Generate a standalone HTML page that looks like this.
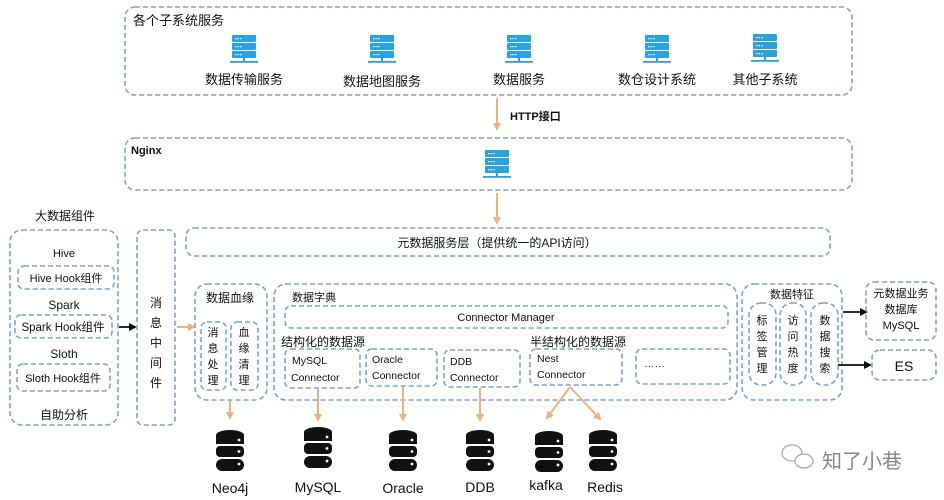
<!DOCTYPE html>
<html><head><meta charset="utf-8"><style>
html,body{margin:0;padding:0;background:#fff;}
svg{display:block;}
text{font-family:"Liberation Sans","Noto Sans CJK SC",sans-serif;fill:#111;}
.b{fill:none;stroke:#7ba3d4;stroke-width:1.6;stroke-dasharray:5,3;}
.o{stroke:#f0b27a;stroke-width:2;fill:none;}
.k{stroke:#111;stroke-width:1.8;fill:none;}
</style></head><body>
<svg width="944" height="500" viewBox="0 0 944 500" xmlns="http://www.w3.org/2000/svg">
<defs>
<g id="srv">
<rect x="-12" y="0" width="24" height="7" rx="1" fill="#29a3e0"/>
<rect x="-12" y="8" width="24" height="7" rx="1" fill="#29a3e0"/>
<rect x="-12" y="16" width="24" height="7" rx="1" fill="#29a3e0"/>
<g fill="#fff"><rect x="-9" y="3" width="1.5" height="1.2"/><rect x="-6.5" y="3" width="1.5" height="1.2"/><rect x="-4" y="3" width="1.5" height="1.2"/>
<rect x="-9" y="11" width="1.5" height="1.2"/><rect x="-6.5" y="11" width="1.5" height="1.2"/><rect x="-4" y="11" width="1.5" height="1.2"/>
<rect x="-9" y="19" width="1.5" height="1.2"/><rect x="-6.5" y="19" width="1.5" height="1.2"/><rect x="-4" y="19" width="1.5" height="1.2"/></g>
<rect x="-1" y="23" width="2" height="3" fill="#29a3e0"/>
<rect x="-14" y="26" width="28" height="1.8" fill="#29a3e0"/>
</g>
<g id="db">
<ellipse cx="0" cy="5" rx="14" ry="5" fill="#111"/>
<rect x="-14" y="5" width="28" height="9" fill="#111"/>
<rect x="-14" y="16" width="28" height="11" rx="4" fill="#111"/>
<rect x="-14" y="29" width="28" height="12" rx="6" fill="#111"/>
<circle cx="9" cy="10" r="1.4" fill="#fff"/><circle cx="9" cy="21.5" r="1.4" fill="#fff"/><circle cx="9" cy="34" r="1.4" fill="#fff"/>
</g>
<marker id="ao" markerWidth="8" markerHeight="8" refX="6" refY="4" orient="auto" markerUnits="userSpaceOnUse"><path d="M0,0 L8,4 L0,8 Z" fill="#f0b27a"/></marker>
<marker id="ak" markerWidth="8" markerHeight="8" refX="6" refY="4" orient="auto" markerUnits="userSpaceOnUse"><path d="M0,0 L8,4 L0,8 Z" fill="#111"/></marker>
</defs>

<!-- top box -->
<rect class="b" x="125" y="7" width="727" height="88" rx="10"/>
<text x="133" y="25" font-size="13">各个子系统服务</text>
<use href="#srv" x="244" y="35"/><use href="#srv" x="382" y="35"/><use href="#srv" x="519" y="35"/><use href="#srv" x="657" y="35"/><use href="#srv" x="765" y="34"/>
<g font-size="13" text-anchor="middle">
<text x="244" y="84">数据传输服务</text><text x="382" y="86">数据地图服务</text><text x="519" y="84">数据服务</text><text x="657" y="84">数仓设计系统</text><text x="765" y="84">其他子系统</text>
</g>
<line class="o" x1="497" y1="98" x2="497" y2="129" marker-end="url(#ao)" stroke-width="3"/>
<text x="510" y="120" font-size="11" font-weight="bold">HTTP接口</text>

<rect class="b" x="125" y="138" width="727" height="52" rx="10"/>
<text x="131" y="154" font-size="11" font-weight="bold">Nginx</text>
<use href="#srv" x="497" y="150"/>
<line class="o" x1="497" y1="193" x2="497" y2="223" marker-end="url(#ao)" stroke-width="3"/>

<rect class="b" x="186" y="228" width="644" height="28" rx="8"/>
<text x="497" y="247" font-size="12" text-anchor="middle">元数据服务层（提供统一的API访问）</text>

<!-- left -->
<text x="35" y="220" font-size="12">大数据组件</text>
<rect class="b" x="10" y="230" width="108" height="195" rx="12"/>
<g font-size="11" text-anchor="middle">
<text x="64" y="257">Hive</text>
<text x="64" y="309" font-size="12">Spark</text>
<text x="64" y="358" font-size="12">Sloth</text>
<text x="64" y="419" font-size="12">自助分析</text>
</g>
<rect class="b" x="18" y="266" width="96" height="23" rx="6"/><text x="66" y="282" font-size="11" text-anchor="middle">Hive Hook组件</text>
<rect class="b" x="15" y="315" width="97" height="23" rx="6"/><text x="63" y="331" font-size="11.5" text-anchor="middle">Spark Hook组件</text>
<rect class="b" x="17" y="364" width="93" height="27" rx="6"/><text x="63" y="382" font-size="11" text-anchor="middle">Sloth Hook组件</text>
<line class="k" x1="119" y1="327" x2="135" y2="327" marker-end="url(#ak)"/>

<rect class="b" x="137" y="230" width="38" height="195" rx="6"/>
<g font-size="12" text-anchor="middle"><text x="156" y="307">消</text><text x="156" y="327">息</text><text x="156" y="347">中</text><text x="156" y="367">间</text><text x="156" y="387">件</text></g>
<line class="o" x1="177" y1="327" x2="194" y2="327" marker-end="url(#ao)" stroke-width="3"/>

<rect class="b" x="195" y="284" width="72" height="116" rx="12"/>
<text x="230" y="302" font-size="12" text-anchor="middle">数据血缘</text>
<rect class="b" x="201" y="322" width="25" height="68" rx="6"/>
<rect class="b" x="231" y="322" width="27" height="68" rx="6"/>
<g font-size="11" text-anchor="middle"><text x="213" y="336">消</text><text x="213" y="352">息</text><text x="213" y="368">处</text><text x="213" y="384">理</text>
<text x="244" y="336">血</text><text x="244" y="352">缘</text><text x="244" y="368">清</text><text x="244" y="384">理</text></g>

<!-- dict -->
<rect class="b" x="274" y="284" width="463" height="116" rx="12"/>
<text x="292" y="301" font-size="11">数据字典</text>
<rect class="b" x="285" y="306" width="443" height="22" rx="6"/>
<text x="506" y="321" font-size="11" text-anchor="middle">Connector  Manager</text>
<text x="281" y="346" font-size="12">结构化的数据源</text>
<text x="530" y="346" font-size="12">半结构化的数据源</text>
<g font-size="10.5">
<rect class="b" x="285" y="349" width="75" height="39" rx="6"/><text x="292" y="364">MySQL</text><text x="291" y="381">Connector</text>
<rect class="b" x="366" y="349" width="71" height="37" rx="6"/><text x="372" y="363">Oracle</text><text x="372" y="379">Connector</text>
<rect class="b" x="444" y="350" width="76" height="37" rx="6"/><text x="450" y="365">DDB</text><text x="450" y="381">Connector</text>
<rect class="b" x="530" y="349" width="92" height="36" rx="6"/><text x="537" y="362">Nest</text><text x="537" y="378">Connector</text>
<rect class="b" x="636" y="349" width="94" height="35" rx="6"/><text x="644" y="367">…… </text>
</g>

<!-- features -->
<rect class="b" x="742" y="284" width="100" height="116" rx="12"/>
<text x="792" y="298" font-size="11" text-anchor="middle">数据特征</text>
<rect class="b" x="749" y="303" width="27" height="82" rx="12"/>
<rect class="b" x="780" y="303" width="26" height="82" rx="12"/>
<rect class="b" x="811" y="303" width="27" height="82" rx="12"/>
<g font-size="11" text-anchor="middle">
<text x="762" y="324">标</text><text x="762" y="340">签</text><text x="762" y="356">管</text><text x="762" y="372">理</text>
<text x="793" y="324">访</text><text x="793" y="340">问</text><text x="793" y="356">热</text><text x="793" y="372">度</text>
<text x="825" y="324">数</text><text x="825" y="340">据</text><text x="825" y="356">搜</text><text x="825" y="372">索</text></g>
<line class="k" x1="843" y1="312" x2="866" y2="312" marker-end="url(#ak)"/>
<line class="k" x1="838" y1="365" x2="870" y2="365" marker-end="url(#ak)"/>
<rect class="b" x="866" y="282" width="70" height="58" rx="8"/>
<g font-size="11" text-anchor="middle"><text x="901" y="297">元数据业务</text><text x="901" y="313">数据库</text><text x="901" y="329">MySQL</text></g>
<rect class="b" x="872" y="350" width="64" height="30" rx="8"/>
<text x="904" y="371" font-size="14" text-anchor="middle">ES</text>

<!-- arrows to dbs -->
<line class="o" x1="230" y1="401" x2="230" y2="418" marker-end="url(#ao)" stroke-width="3"/>
<line class="o" x1="318" y1="389" x2="318" y2="420" marker-end="url(#ao)" stroke-width="3"/>
<line class="o" x1="403" y1="387" x2="403" y2="420" marker-end="url(#ao)" stroke-width="3"/>
<line class="o" x1="480" y1="388" x2="480" y2="420" marker-end="url(#ao)" stroke-width="3"/>
<line class="o" x1="570" y1="387" x2="547" y2="418" marker-end="url(#ao)" stroke-width="2.5"/>
<line class="o" x1="570" y1="387" x2="600" y2="419" marker-end="url(#ao)" stroke-width="2.5"/>

<use href="#db" x="230" y="430"/><use href="#db" x="318" y="427"/><use href="#db" x="403" y="430"/><use href="#db" x="480" y="430"/><use href="#db" x="549" y="431"/><use href="#db" x="603" y="430"/>
<g font-size="14" text-anchor="middle">
<text x="230" y="493">Neo4j</text><text x="318" y="492">MySQL</text><text x="403" y="493">Oracle</text><text x="480" y="492">DDB</text><text x="546" y="490">kafka</text><text x="605" y="492">Redis</text></g>

<!-- watermark -->
<g fill="none" stroke="#aaa" stroke-width="1.3"><ellipse cx="792" cy="453" rx="10" ry="8"/><ellipse cx="804" cy="461" rx="9" ry="7" fill="#fff"/></g>
<text x="822" y="468" font-size="20" fill="#888" style="fill:#888">知了小巷</text>
</svg>
</body></html>
